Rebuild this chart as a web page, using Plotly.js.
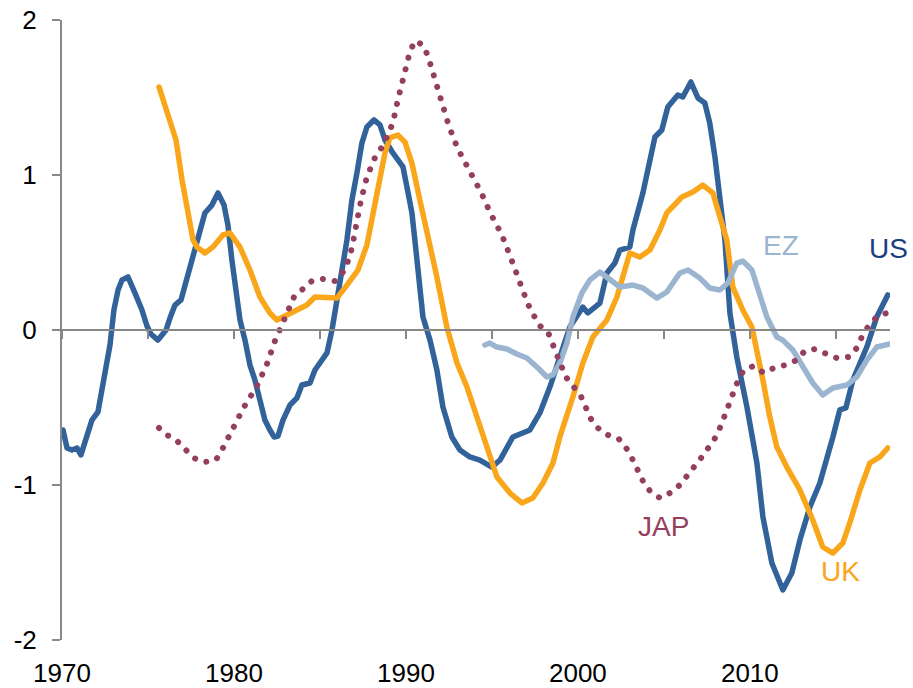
<!DOCTYPE html>
<html>
<head>
<meta charset="utf-8">
<script src="https://cdn.plot.ly/plotly-3.0.1.min.js"></script>
<style>
html,body{margin:0;padding:0;background:#fff;}
#chart{width:913px;height:688px;}
.js-line{stroke-linecap:round !important;stroke-linejoin:round !important;}
</style>
</head>
<body>
<div id="chart"></div>
<script>
// ---- Data ----
const usYear = [1970.06,1970.29,1970.58,1970.87,1971.10,1971.40,1971.74,1972.09,1972.44,1972.79,1973.02,1973.26,1973.49,1973.84,1974.24,1974.65,1974.94,1975.17,1975.58,1976.05,1976.28,1976.57,1976.92,1977.15,1977.44,1977.73,1978.02,1978.31,1978.72,1979.07,1979.42,1979.65,1979.88,1980.12,1980.35,1980.64,1980.93,1981.22,1981.51,1981.80,1982.09,1982.33,1982.56,1982.85,1983.26,1983.66,1983.95,1984.42,1984.71,1985.00,1985.41,1985.70,1985.99,1986.28,1986.57,1986.86,1987.15,1987.44,1987.73,1988.14,1988.49,1988.78,1989.24,1989.83,1990.06,1990.35,1990.52,1990.70,1990.99,1991.40,1991.80,1992.15,1992.67,1993.14,1993.72,1994.30,1995.00,1995.47,1996.22,1997.21,1997.79,1998.37,1998.95,1999.53,2000.29,2000.58,2001.28,2001.69,2002.15,2002.44,2003.02,2003.20,2003.78,2004.48,2004.88,2005.23,2005.81,2006.10,2006.57,2006.98,2007.38,2007.67,2007.97,2008.26,2008.55,2008.84,2009.24,2009.83,2010.41,2010.76,2011.28,2011.92,2012.44,2012.91,2013.49,2014.07,2014.48,2014.83,2015.23,2015.58,2015.99,2016.80,2017.38,2018.02];
const usValue = [-0.645,-0.761,-0.774,-0.761,-0.806,-0.710,-0.581,-0.529,-0.323,-0.097,0.129,0.258,0.323,0.342,0.239,0.129,0.026,-0.026,-0.065,0.000,0.077,0.161,0.194,0.290,0.387,0.516,0.645,0.755,0.806,0.884,0.806,0.677,0.452,0.258,0.065,-0.065,-0.226,-0.323,-0.452,-0.581,-0.645,-0.690,-0.684,-0.581,-0.484,-0.439,-0.355,-0.342,-0.258,-0.206,-0.148,0.000,0.174,0.387,0.581,0.839,1.013,1.206,1.310,1.355,1.323,1.226,1.142,1.052,0.923,0.755,0.581,0.387,0.084,-0.065,-0.258,-0.497,-0.690,-0.774,-0.819,-0.839,-0.884,-0.839,-0.690,-0.645,-0.535,-0.368,-0.174,0.019,0.148,0.110,0.174,0.368,0.432,0.516,0.535,0.645,0.884,1.245,1.290,1.439,1.516,1.503,1.600,1.497,1.465,1.335,1.116,0.839,0.581,0.110,-0.174,-0.497,-0.858,-1.206,-1.503,-1.677,-1.568,-1.355,-1.142,-0.987,-0.839,-0.690,-0.516,-0.503,-0.323,-0.110,0.084,0.226];

const ukYear = [1975.64,1976.16,1976.63,1976.98,1977.27,1977.62,1977.85,1978.31,1978.78,1979.36,1979.77,1980.35,1980.93,1981.51,1982.09,1982.50,1983.08,1983.84,1984.24,1984.71,1985.29,1985.99,1986.57,1987.21,1987.73,1988.31,1988.78,1989.07,1989.53,1989.94,1990.35,1990.81,1991.22,1991.80,1992.38,1992.97,1993.55,1994.13,1994.71,1995.29,1996.05,1996.74,1997.38,1997.97,1998.55,1998.95,1999.71,2000.29,2000.87,2001.69,2002.27,2003.02,2003.60,2004.19,2004.77,2005.17,2006.05,2006.69,2007.27,2007.85,2008.26,2008.66,2009.01,2009.59,2010.12,2010.41,2010.76,2011.16,2011.57,2012.15,2012.91,2013.66,2014.24,2014.83,2015.41,2015.81,2016.40,2016.98,2017.56,2018.02];
const ukValue = [1.568,1.374,1.226,0.968,0.794,0.581,0.535,0.497,0.535,0.613,0.626,0.535,0.387,0.213,0.110,0.065,0.097,0.142,0.161,0.213,0.206,0.206,0.290,0.387,0.548,0.884,1.142,1.239,1.258,1.213,1.077,0.839,0.645,0.342,0.019,-0.213,-0.368,-0.561,-0.774,-0.948,-1.052,-1.116,-1.084,-0.987,-0.858,-0.690,-0.432,-0.213,-0.045,0.065,0.213,0.497,0.471,0.516,0.645,0.755,0.858,0.890,0.935,0.884,0.729,0.581,0.277,0.129,0.019,-0.129,-0.323,-0.561,-0.755,-0.884,-1.032,-1.226,-1.400,-1.439,-1.374,-1.245,-1.032,-0.858,-0.819,-0.761];

const ezYear = [1994.59,1994.88,1995.29,1995.87,1996.45,1997.03,1997.62,1998.20,1998.55,1998.95,1999.36,1999.71,2000.23,2000.70,2001.28,2001.86,2002.44,2003.20,2003.78,2004.59,2005.17,2005.93,2006.40,2007.09,2007.67,2008.26,2008.72,2009.24,2009.59,2010.12,2010.47,2010.99,2011.57,2011.92,2012.50,2013.08,2013.66,2014.24,2014.83,2015.64,2016.22,2016.80,2017.38,2018.14];
const ezValue = [-0.097,-0.084,-0.110,-0.123,-0.155,-0.181,-0.239,-0.303,-0.290,-0.213,-0.084,0.084,0.239,0.323,0.374,0.323,0.277,0.290,0.271,0.206,0.245,0.368,0.387,0.335,0.271,0.258,0.303,0.432,0.445,0.387,0.258,0.084,-0.045,-0.065,-0.129,-0.239,-0.342,-0.419,-0.374,-0.355,-0.303,-0.194,-0.110,-0.090];

const japYear = [1975.64,1976.10,1976.69,1977.15,1977.67,1978.26,1978.95,1979.30,1979.94,1980.58,1981.34,1981.92,1982.38,1982.91,1983.49,1984.01,1984.53,1985.17,1985.87,1986.34,1986.63,1986.86,1987.09,1987.38,1987.73,1988.26,1988.66,1989.24,1989.53,1989.88,1990.23,1990.52,1990.99,1991.28,1991.69,1992.03,1992.50,1993.02,1993.72,1994.36,1994.94,1995.58,1996.10,1996.57,1997.09,1997.73,1998.26,1998.78,1999.30,2000.17,2000.76,2001.16,2001.74,2002.38,2002.85,2003.20,2003.78,2004.19,2004.77,2005.35,2005.93,2006.34,2006.80,2007.21,2007.62,2008.02,2008.31,2008.55,2008.84,2009.07,2009.30,2009.65,2010.23,2010.81,2011.51,2012.09,2012.73,2013.20,2013.78,2014.48,2015.06,2015.76,2016.22,2016.51,2016.86,2017.38,2017.97];
const japValue = [-0.632,-0.677,-0.716,-0.774,-0.826,-0.852,-0.839,-0.774,-0.632,-0.497,-0.361,-0.219,-0.071,0.071,0.213,0.265,0.316,0.329,0.316,0.374,0.445,0.529,0.677,0.832,0.987,1.129,1.187,1.335,1.484,1.639,1.794,1.865,1.839,1.768,1.613,1.465,1.316,1.168,1.032,0.890,0.748,0.613,0.465,0.316,0.168,0.032,-0.013,-0.161,-0.303,-0.426,-0.574,-0.632,-0.677,-0.703,-0.768,-0.839,-0.974,-1.039,-1.084,-1.052,-1.000,-0.942,-0.884,-0.819,-0.755,-0.690,-0.619,-0.542,-0.471,-0.400,-0.329,-0.258,-0.232,-0.277,-0.239,-0.226,-0.194,-0.135,-0.123,-0.155,-0.181,-0.174,-0.116,-0.045,0.019,0.084,0.110];

const xTickVals = [1970, 1980, 1990, 2000, 2010];
const xTickText = ["1970", "1980", "1990", "2000", "2010"];
const yTickVals = [-2, -1, 0, 1, 2];
const yTickText = ["-2", "-1", "0", "1", "2"];

const seriesLabels = ["US", "EZ", "JAP", "UK"];
const labelX = [2018.08, 2011.84, 2005.0, 2015.29];
const labelY = [0.523, 0.548, -1.265, -1.561];

// ---- Styles ----
const FONT = "Liberation Sans, Arial, sans-serif";
const AXIS_GREY = "#888888";
const cUS = "#32629A", cUK = "#F9A61B", cEZ = "#9BB5D1", cJAP = "#953F60";
const labelColors = ["#1A3F80", cEZ, cJAP, cUK];

const traces = [
  {x: usYear, y: usValue, mode: "lines", line: {color: cUS, width: 5.5}, hoverinfo: "skip"},
  {x: ukYear, y: ukValue, mode: "lines", line: {color: cUK, width: 5.5}, hoverinfo: "skip"},
  {x: ezYear, y: ezValue, mode: "lines", line: {color: cEZ, width: 5.5}, hoverinfo: "skip"},
  {x: japYear, y: japValue, mode: "lines", line: {color: cJAP, width: 6, dash: "0.1px,11.8px"}, hoverinfo: "skip"},
  {x: usYear, y: usValue, xaxis: "x2", mode: "lines", line: {color: "rgba(0,0,0,0)", width: 0}, hoverinfo: "skip"}
];

const annotations = seriesLabels.map((t, i) => ({
  x: labelX[i], y: labelY[i], xref: "x", yref: "y", text: t, showarrow: false,
  xanchor: "center", yanchor: "middle", font: {family: FONT, size: 28, color: labelColors[i]}
}));

const xRange = [1970, 2018.15];

const layout = {
  width: 913, height: 688,
  margin: {l: 62, r: 23, t: 20, b: 48, pad: 0},
  paper_bgcolor: "#ffffff", plot_bgcolor: "#ffffff",
  showlegend: false,
  font: {family: FONT, size: 26, color: "#000000"},
  xaxis: {
    range: xRange, tickmode: "array", tickvals: xTickVals, ticktext: xTickText,
    showline: false, showgrid: false, zeroline: false, ticks: "",
    tickfont: {family: FONT, size: 26, color: "#000000"}, ticklabelstandoff: 15
  },
  xaxis2: {
    range: xRange, overlaying: "x", anchor: "free", position: 0.5,
    showline: true, linecolor: AXIS_GREY, linewidth: 2,
    ticks: "outside", ticklen: 8, tickwidth: 2, tickcolor: AXIS_GREY,
    tickmode: "linear", tick0: 1970, dtick: 5,
    showticklabels: false, showgrid: false, zeroline: false
  },
  yaxis: {
    range: [-2, 2], tickmode: "array", tickvals: yTickVals, ticktext: yTickText,
    showline: true, linecolor: AXIS_GREY, linewidth: 2,
    ticks: "outside", ticklen: 8, tickwidth: 2, tickcolor: AXIS_GREY,
    showgrid: false, zeroline: false,
    tickfont: {family: FONT, size: 26, color: "#000000"}, ticklabelstandoff: 10
  },
  annotations: annotations
};

Plotly.newPlot("chart", traces, layout, {staticPlot: true, displayModeBar: false});
</script>
</body>
</html>
